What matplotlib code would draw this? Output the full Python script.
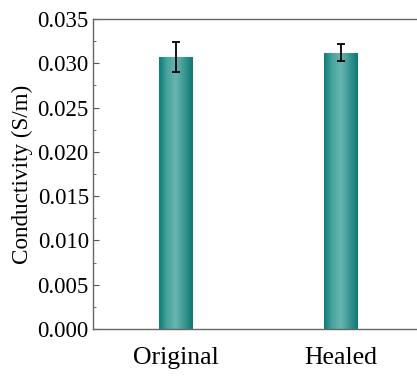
import numpy as np
import matplotlib
matplotlib.use("Agg")
import matplotlib.pyplot as plt
from matplotlib.colors import LinearSegmentedColormap

plt.rcParams['font.family'] = ['Liberation Serif', 'DejaVu Serif']

samples = ['Original', 'Healed']
conductivity = [0.03075, 0.0312]
errors = [0.0017, 0.00097]

fig = plt.figure(figsize=(4.17, 3.78), dpi=100)
ax = fig.add_axes([0.223, 0.1296, 0.7926, 0.8201])

x = np.arange(len(samples))
bars = ax.bar(x, conductivity, width=0.2, color='#1a8580', zorder=2)

# cylinder-like shading
cmap = LinearSegmentedColormap.from_list('cyl', ['#0e7c77', '#4aa49f', '#68b5b0', '#3a9792', '#0c7873'])
grad = np.linspace(0, 1, 256).reshape(1, -1)
for b in bars:
    x0, y0 = b.get_x(), b.get_y()
    w, h = b.get_width(), b.get_height()
    im = ax.imshow(grad, cmap=cmap, aspect='auto', extent=[x0, x0 + w, y0, y0 + h],
                   zorder=2.5, interpolation='bicubic')
    im.set_clip_path(b)

ax.errorbar(x, conductivity, yerr=errors, fmt='none', ecolor='black',
            elinewidth=1.3, capsize=3, capthick=1.3, zorder=3)

ax.set_xlim(-0.5, 1.5)
ax.set_ylim(0, 0.035)
ax.set_yticks(np.arange(0, 0.0351, 0.005))
ax.set_yticks(np.arange(0.0025, 0.035, 0.005), minor=True)
ax.set_yticklabels([f'{v:.3f}' for v in np.arange(0, 0.0351, 0.005)])
ax.set_xticks(x)
ax.set_xticklabels(samples)
ax.tick_params(axis='both', direction='in', color='#555555', length=4)
ax.tick_params(axis='y', labelsize=16.5, pad=3)
ax.tick_params(axis='x', labelsize=18.5, pad=13)
ax.tick_params(axis='y', which='minor', direction='in', length=2.5, color='#555555')
ax.set_ylabel('Conductivity (S/m)', fontsize=16.7, labelpad=3)

ax.spines['right'].set_visible(False)
for s in ax.spines.values():
    s.set_color('#666666')
    s.set_linewidth(1.0)

fig.savefig('out.png', dpi=100)
